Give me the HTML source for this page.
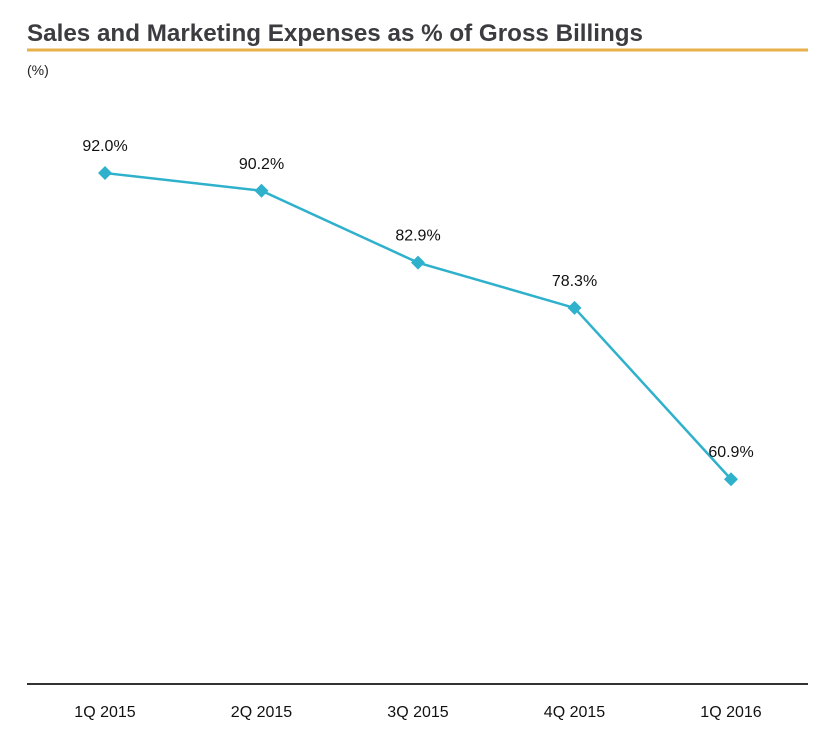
<!DOCTYPE html>
<html><head><meta charset="utf-8"><style>
html,body{margin:0;padding:0;background:#fff;width:822px;height:746px;overflow:hidden;font-family:"Liberation Sans",sans-serif;}
</style></head><body>
<svg width="822" height="746" xmlns="http://www.w3.org/2000/svg">
<text x="27" y="41" font-size="24" font-weight="bold" fill="#3b3b40" textLength="616" lengthAdjust="spacingAndGlyphs">Sales and Marketing Expenses as % of Gross Billings</text>
<line x1="27" y1="50" x2="808" y2="50" stroke="#e8b04a" stroke-width="3"/>
<text x="27" y="75" font-size="14" fill="#222">(%)</text>
<line x1="27" y1="684" x2="808" y2="684" stroke="#333" stroke-width="2"/>
<g id="xlabels"></g><g id="series"></g><g id="labels"></g>
</svg>
<script>
const categories=["1Q 2015","2Q 2015","3Q 2015","4Q 2015","1Q 2016"];
const values=[92.0,90.2,82.9,78.3,60.9];
const valueLabels=["92.0%","90.2%","82.9%","78.3%","60.9%"];
const NS="http://www.w3.org/2000/svg";
const yMin=40,yMax=100,yBottom=685,yTop=94.3;
function x(i){return 105+i*156.5;}
function y(v){return yBottom-(v-yMin)/(yMax-yMin)*(yBottom-yTop);}
function mk(t,a,parent){const e=document.createElementNS(NS,t);for(const k in a)e.setAttribute(k,a[k]);parent.appendChild(e);return e;}
const xl=document.getElementById('xlabels'),se=document.getElementById('series'),lb=document.getElementById('labels');
categories.forEach((c,i)=>{
  const t=mk('text',{x:x(i),y:717,'font-size':16,'text-anchor':'middle',fill:'#111'},xl);
  t.textContent=c;
  
  
});
const pl=mk('polyline',{points:values.map((v,i)=>x(i)+','+y(v)).join(' '),fill:'none',stroke:'#2fb1cc','stroke-width':2.5},se);


values.forEach((v,i)=>{
  const cx=x(i),cy=y(v);
  const m=mk('polygon',{points:`${cx},${cy-7} ${cx+7},${cy} ${cx},${cy+7} ${cx-7},${cy}`,fill:'#2fb1cc'},se);
  
  
  const t=mk('text',{x:cx,y:cy-22,'font-size':16,'text-anchor':'middle',fill:'#111'},lb);
  t.textContent=valueLabels[i];
  
  
});
</script>
</body></html>
